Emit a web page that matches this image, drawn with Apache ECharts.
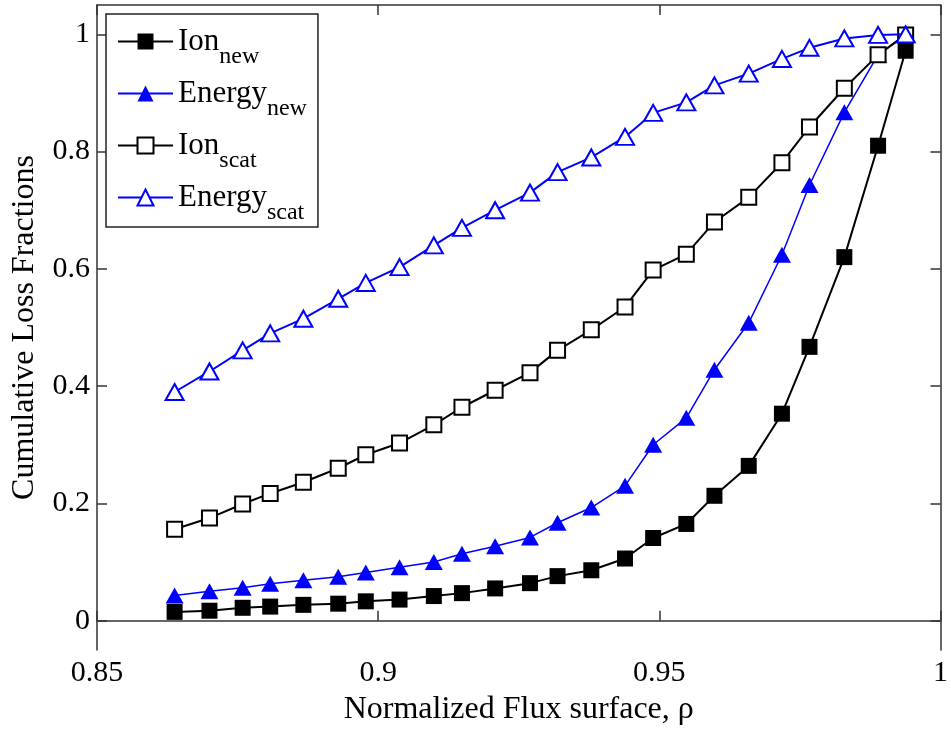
<!DOCTYPE html>
<html>
<head>
<meta charset="utf-8">
<script src="https://cdn.jsdelivr.net/npm/echarts@6/dist/echarts.min.js"></script>
<style>html,body{margin:0;padding:0;background:#fff;}#chart{width:951px;height:731px;}</style>
</head>
<body>
<div id="chart"></div>
<script>
var rho = [0.8638, 0.8700, 0.8759, 0.8808, 0.8867, 0.8929, 0.8978, 0.9038, 0.9099, 0.9149, 0.9208, 0.9270, 0.9319, 0.9379, 0.9439, 0.9489, 0.9548, 0.9598, 0.9659, 0.9718, 0.9767, 0.9829, 0.9889, 0.9938];
var ionNew = [0.015, 0.017, 0.022, 0.024, 0.027, 0.029, 0.033, 0.036, 0.042, 0.047, 0.055, 0.064, 0.076, 0.086, 0.106, 0.141, 0.165, 0.213, 0.264, 0.353, 0.467, 0.620, 0.810, 0.972];
var energyNew = [0.043, 0.050, 0.056, 0.063, 0.069, 0.075, 0.082, 0.091, 0.100, 0.114, 0.127, 0.142, 0.167, 0.193, 0.230, 0.300, 0.346, 0.428, 0.508, 0.624, 0.743, 0.867, 0.965, 1.0];
var ionScat = [0.156, 0.175, 0.199, 0.217, 0.236, 0.260, 0.283, 0.303, 0.334, 0.364, 0.393, 0.423, 0.461, 0.496, 0.535, 0.598, 0.625, 0.680, 0.722, 0.781, 0.842, 0.908, 0.965, 0.999];
var energyScat = [0.390, 0.425, 0.461, 0.490, 0.515, 0.549, 0.576, 0.603, 0.640, 0.670, 0.700, 0.730, 0.765, 0.790, 0.825, 0.866, 0.884, 0.913, 0.933, 0.958, 0.977, 0.993, 0.999, 1.0];
var seriesNames = ['Ion_new', 'Energy_new', 'Ion_scat', 'Energy_scat'];
var yTicks = [0, 0.2, 0.4, 0.6, 0.8, 1];
var xTicks = [0.85, 0.9, 0.95, 1];
var xTitle = 'Normalized Flux surface, \u03c1';
var yTitle = 'Cumulative Loss Fractions';

function pairs(ys) { return rho.map(function (x, i) { return [x, ys[i]]; }); }

var FONT = 'Liberation Serif';
var axisColor = '#333';
var chart = echarts.init(document.getElementById('chart'), null, { renderer: 'canvas' });

function mkSeries(name, ys, symbol, size, fill, stroke, lw, z) {
  return {
    name: name, type: 'line', data: pairs(ys), symbol: symbol, symbolSize: size,
    showAllSymbol: true, animation: false, z: z,
    lineStyle: { color: stroke, width: lw },
    itemStyle: { color: fill, borderColor: stroke, borderWidth: fill === '#fff' ? 2 : 0 },
    emphasis: { disabled: true }
  };
}

var option = {
  backgroundColor: '#fff',
  animation: false,
  grid: { left: 97, right: 7, top: 5, bottom: 76, containLabel: false },
  xAxis: [{
    type: 'value', min: 0.85, max: 1, interval: 0.05,
    name: xTitle, nameLocation: 'middle', nameGap: 44,
    nameTextStyle: { fontFamily: FONT, fontSize: 32, color: '#000' },
    axisLine: { show: true, lineStyle: { color: axisColor, width: 1.5 } },
    axisTick: { show: true, inside: true, length: 10, customValues: xTicks, lineStyle: { color: axisColor, width: 1.5 } },
    axisLabel: { fontFamily: FONT, fontSize: 30, color: '#000', margin: 8, customValues: xTicks },
    splitLine: { show: false }
  }, {
    type: 'value', min: 0.85, max: 1, interval: 0.05, position: 'top',
    axisLine: { show: true, onZero: false, lineStyle: { color: axisColor, width: 1.5 } },
    axisTick: { show: true, inside: true, length: 10, customValues: xTicks, lineStyle: { color: axisColor, width: 1.5 } },
    axisLabel: { show: false, customValues: xTicks }, splitLine: { show: false }
  }],
  yAxis: [{
    type: 'value', min: -0.05, max: 1.05,
    name: yTitle, nameLocation: 'middle', nameGap: 56, nameRotate: 90,
    nameTextStyle: { fontFamily: FONT, fontSize: 32, color: '#000' },
    axisLine: { show: true, onZero: false, lineStyle: { color: axisColor, width: 1.5 } },
    axisTick: { show: true, inside: true, length: 10, customValues: yTicks, lineStyle: { color: axisColor, width: 1.5 } },
    axisLabel: { fontFamily: FONT, fontSize: 30, color: '#000', margin: 7, customValues: yTicks },
    splitLine: { show: false }
  }, {
    type: 'value', min: -0.05, max: 1.05, position: 'right',
    axisLine: { show: true, onZero: false, lineStyle: { color: axisColor, width: 1.5 } },
    axisTick: { show: true, inside: true, length: 10, customValues: yTicks, lineStyle: { color: axisColor, width: 1.5 } },
    axisLabel: { show: false, customValues: yTicks }, splitLine: { show: false }
  }],
  legend: {
    orient: 'vertical', left: 106, top: 14,
    padding: [12, 11, 2, 11], itemGap: 9,
    itemWidth: 55, itemHeight: 20,
    backgroundColor: '#fff', borderColor: '#222', borderWidth: 1.5, borderRadius: 0,
    data: seriesNames,
    formatter: function (n) {
      var p = n.split('_');
      return '{a|' + p[0] + '}{b|' + p[1] + '}';
    },
    textStyle: {
      color: '#000',
      rich: {
        a: { fontFamily: FONT, fontSize: 31, lineHeight: 31, verticalAlign: 'top', color: '#000' },
        b: { fontFamily: FONT, fontSize: 24, lineHeight: 24, padding: [19, 0, 0, 0], verticalAlign: 'top', color: '#000' }
      }
    }
  },
  series: [
    mkSeries('Ion_new', ionNew, 'rect', 16, '#000', '#000', 2, 2),
    mkSeries('Energy_new', energyNew, 'triangle', [18, 16], '#0000ff', '#0000ff', 1.5, 3),
    mkSeries('Ion_scat', ionScat, 'rect', 15, '#fff', '#000', 2, 4),
    mkSeries('Energy_scat', energyScat, 'triangle', [18, 16], '#fff', '#0000ff', 2, 5)
  ]
};
chart.setOption(option);
</script>
</body>
</html>
